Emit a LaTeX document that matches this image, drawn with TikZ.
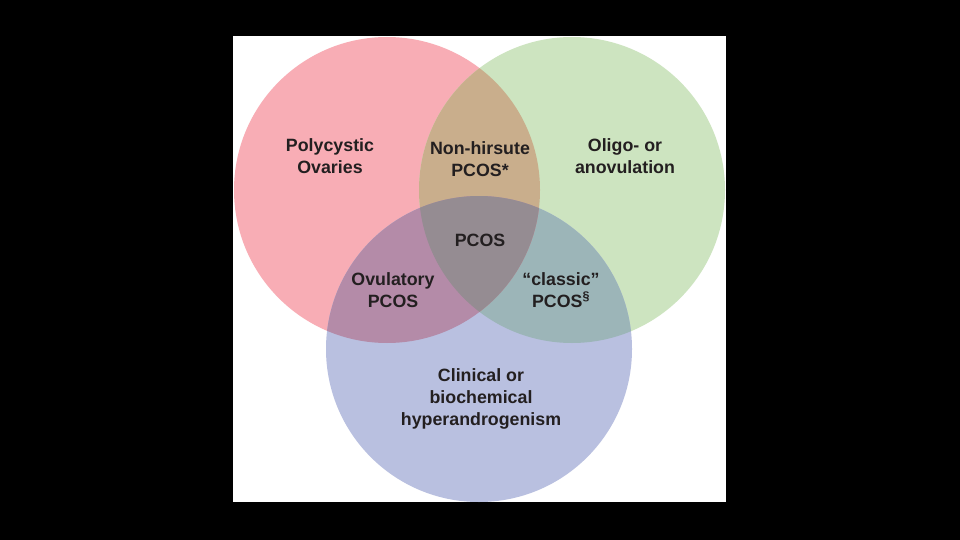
\documentclass[tikz,border=0pt]{standalone}
\usepackage{fontspec}
\setmainfont{Liberation Sans}
\definecolor{cred}{HTML}{F8ADB5}
\definecolor{cgreen}{HTML}{CDE4C0}
\definecolor{cblue}{HTML}{B9C0E0}
\definecolor{ctan}{HTML}{C9AE8C}
\definecolor{cpurple}{HTML}{B48BA8}
\definecolor{cteal}{HTML}{9CB5B8}
\definecolor{cgray}{HTML}{958C92}
\definecolor{ctext}{HTML}{231F20}
\tikzset{
  lbl/.style={text=ctext, align=center, inner sep=0pt,
    font=\fontsize{17.8}{21.7}\selectfont\bfseries}
}
\begin{document}
\begin{tikzpicture}[x=1pt,y=-1pt]
\useasboundingbox (0,0) rectangle (960,540);
\fill[black] (0,0) rectangle (960,540);
\fill[white] (233,36) rectangle (726,502);
\coordinate (R) at (387,190);
\coordinate (G) at (572,190);
\coordinate (B) at (479,349);
\begin{scope}
  \clip (233,36) rectangle (726,502);
  \fill[cred] (R) circle (153pt);
  \fill[cgreen] (G) circle (153pt);
  \fill[cblue] (B) circle (153pt);
  \begin{scope}
    \clip (G) circle (153pt);
    \fill[cteal] (B) circle (153pt);
  \end{scope}
  \begin{scope}
    \clip (R) circle (153pt);
    \fill[ctan] (G) circle (153pt);
    \fill[cpurple] (B) circle (153pt);
    \clip (G) circle (153pt);
    \fill[cgray] (B) circle (153pt);
  \end{scope}
\end{scope}
\node[lbl] (poly) at (330,156) {Polycystic\\Ovaries};
\node[lbl] (nonh) at (480,159) {Non-hirsute\\PCOS*};
\node[lbl] (oligo) at (625,156) {Oligo- or\\anovulation};
\node[lbl] (pcos) at (480,240) {PCOS};
\node[lbl] (ovul) at (393,290) {Ovulatory\\PCOS};
\node[lbl] (classic) at (561,290) {“classic”\\PCOS\textsuperscript{§}};
\node[lbl] (clin) at (481,399) {Clinical or\\biochemical\\hyperandrogenism};
\end{tikzpicture}
\end{document}
